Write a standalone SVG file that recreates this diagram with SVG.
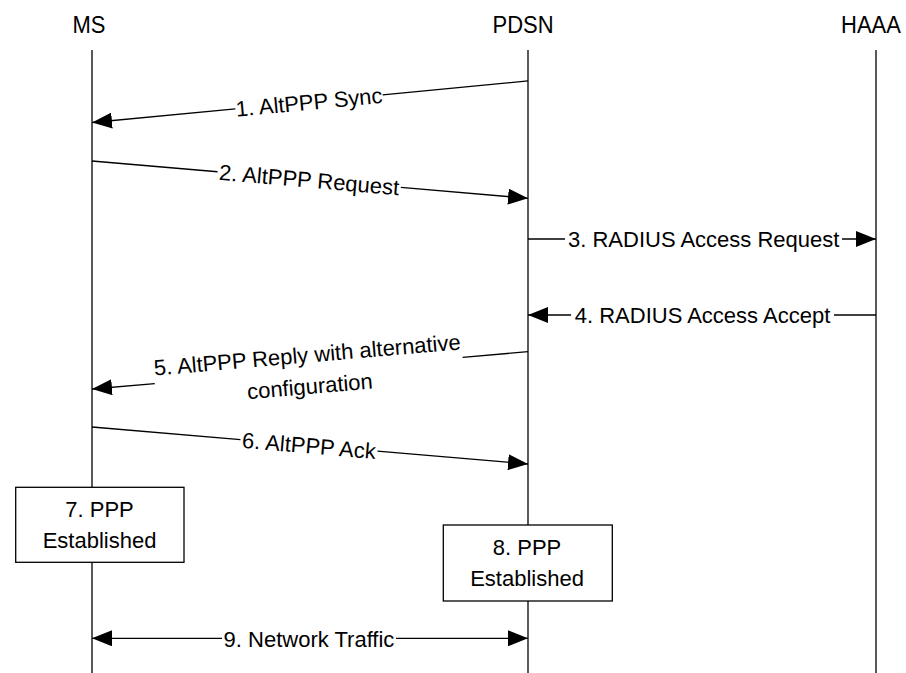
<svg xmlns="http://www.w3.org/2000/svg" width="906" height="673" viewBox="0 0 906 673">
  <style>
    text { font-family: "Liberation Sans", Arial, sans-serif; font-size: 22px; fill: #000; }
    .mid { text-anchor: middle; }
    .life { stroke: #000; stroke-width: 1.3; fill: none; }
    .msg { stroke: #000; stroke-width: 1.3; fill: none; }
    .arrow { marker-end: url(#head); }
    .box { fill: #fff; stroke: #000; stroke-width: 1.3; }
  </style>
  <defs>
    <marker id="head" markerUnits="userSpaceOnUse" viewBox="0 0 20 16" refX="20" refY="8" markerWidth="20" markerHeight="16" orient="auto">
      <path d="M0,0 L20,8 L0,16 z" fill="#000"/>
    </marker>
  </defs>
  <rect width="906" height="673" fill="#fff"/>

  <!-- lifelines -->
  <g id="ms">
    <text class="mid" transform="translate(89,33) scale(1,1.12)">MS</text>
    <line class="life" x1="92" y1="50" x2="92" y2="673"/>
  </g>
  <g id="pdsn">
    <text class="mid" transform="translate(523,33) scale(1,1.12)">PDSN</text>
    <line class="life" x1="528" y1="50" x2="528" y2="673"/>
  </g>
  <g id="haaa">
    <text class="mid" transform="translate(871,33) scale(1,1.12)">HAAA</text>
    <line class="life" x1="876" y1="50" x2="876" y2="673"/>
  </g>

  <!-- connectors -->
  <g id="connectors">
    <!-- 1: PDSN to MS -->
    <g transform="translate(92,122.5) rotate(-5.44)">
      <line class="msg arrow" x1="144" y1="0" x2="0" y2="0"/>
      <line class="msg" x1="292" y1="0" x2="438" y2="0"/>
      <text class="mid" x="218" y="8" textLength="147">1. AltPPP Sync</text>
    </g>
    <!-- 2: MS to PDSN -->
    <g transform="translate(92,161) rotate(4.89)">
      <line class="msg" x1="0" y1="0" x2="126" y2="0"/>
      <line class="msg arrow" x1="310" y1="0" x2="437.6" y2="0"/>
      <text class="mid" x="218" y="8">2. AltPPP Request</text>
    </g>
    <!-- 3: PDSN to HAAA -->
    <line class="msg" x1="528" y1="239" x2="565" y2="239"/>
    <line class="msg arrow" x1="842" y1="239" x2="876" y2="239"/>
    <text class="mid" x="703.7" y="247">3. RADIUS Access Request</text>
    <!-- 4: HAAA to PDSN -->
    <line class="msg" x1="876" y1="315" x2="834" y2="315"/>
    <line class="msg arrow" x1="571" y1="315" x2="528" y2="315"/>
    <text class="mid" x="702.5" y="323">4. RADIUS Access Accept</text>
    <!-- 5: PDSN to MS -->
    <g transform="translate(92,389) rotate(-4.89)">
      <line class="msg arrow" x1="63" y1="0" x2="0" y2="0"/>
      <line class="msg" x1="372" y1="0" x2="437.6" y2="0"/>
      <text class="mid" x="217.3" y="-8">5. AltPPP Reply with alternative</text>
      <text class="mid" x="217.3" y="23.5">configuration</text>
    </g>
    <!-- 6: MS to PDSN -->
    <g transform="translate(92,427) rotate(4.85)">
      <line class="msg" x1="0" y1="0" x2="149" y2="0"/>
      <line class="msg arrow" x1="286.5" y1="0" x2="437.6" y2="0"/>
      <text class="mid" x="217.8" y="8">6. AltPPP Ack</text>
    </g>
    <!-- 9: MS and PDSN, both ways -->
    <line class="msg arrow" x1="222" y1="638.3" x2="92" y2="638.3"/>
    <line class="msg arrow" x1="396" y1="638.3" x2="528" y2="638.3"/>
    <text class="mid" x="309" y="646.5">9. Network Traffic</text>
  </g>

  <!-- state boxes -->
  <g id="ms-ppp">
    <rect class="box" x="15.7" y="487.3" width="168.3" height="75"/>
    <text class="mid" x="99.5" y="517">7. PPP</text>
    <text class="mid" x="99.5" y="548.3">Established</text>
  </g>
  <g id="pdsn-ppp">
    <rect class="box" x="443.3" y="525" width="169" height="76"/>
    <text class="mid" x="527" y="555">8. PPP</text>
    <text class="mid" x="527" y="585.7">Established</text>
  </g>
</svg>
